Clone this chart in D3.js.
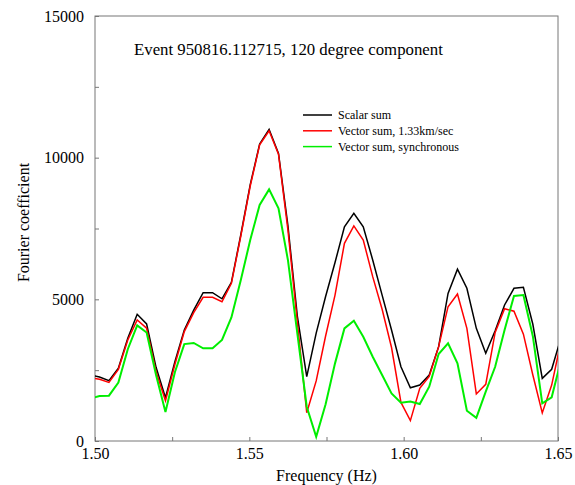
<!DOCTYPE html>
<html>
<head>
<meta charset="utf-8">
<script src="https://cdn.jsdelivr.net/npm/d3@7"></script>
<style>
  body { margin: 0; background: #fff; }
  svg text { font-family: "Liberation Serif", "Times New Roman", Times, "DejaVu Serif", serif; fill: #000; }
</style>
</head>
<body>
<script>
//Fourier coefficients vs frequency, three stacking methods

//Frequency grid (Hz)
var freq = [1.49841, 1.50146, 1.50452, 1.50757, 1.51062, 1.51367, 1.51672, 1.51978,
            1.52283, 1.52588, 1.52893, 1.53198, 1.53503, 1.53809, 1.54114, 1.54419,
            1.54724, 1.55029, 1.55334, 1.55640, 1.55945, 1.56250, 1.56555, 1.56860,
            1.57166, 1.57471, 1.57776, 1.58081, 1.58386, 1.58691, 1.58997, 1.59302,
            1.59607, 1.59912, 1.60217, 1.60522, 1.60828, 1.61133, 1.61438, 1.61743,
            1.62048, 1.62354, 1.62659, 1.62964, 1.63269, 1.63574, 1.63879, 1.64185,
            1.64490, 1.64795, 1.65100];

var scalarSum = [2330, 2260, 2130, 2565, 3625, 4470, 4130, 2600, 1530, 2800,
                 3920, 4620, 5235, 5235, 5020, 5600, 7280, 9050, 10480, 11000,
                 10150, 7600, 4410, 2270, 3810, 5100, 6300, 7560, 8035, 7560,
                 6390, 5150, 3920, 2620, 1880, 1975, 2330, 3330, 5210, 6065,
                 5390, 3975, 3095, 3890, 4800, 5390, 5425, 4120, 2210, 2530, 3655];

var vectorSum = [2240, 2180, 2070, 2530, 3565, 4270, 3980, 2450, 1420, 2700,
                 3860, 4530, 5070, 5070, 4915, 5565, 7235, 9000, 10450, 10950,
                 10120, 7450, 4200, 1000, 2120, 3705, 5150, 6975, 7590, 7095,
                 5800, 4650, 3300, 1360, 720, 1860, 2280, 3330, 4740, 5190,
                 3975, 1660, 2000, 3830, 4670, 4580, 3770, 2330, 990, 1975, 3530];

var syncSum = [1500, 1590, 1600, 2060, 3240, 4080, 3830, 2330, 1020, 2430,
               3420, 3460, 3270, 3270, 3565, 4360, 5680, 7095, 8330, 8880,
               8210, 6390, 3800, 1210, 150, 1300, 2740, 3975, 4245, 3680,
               2975, 2330, 1680, 1350, 1390, 1305, 1915, 3070, 3450, 2740,
               1070, 820, 1740, 2620, 3920, 5120, 5150, 3700, 1330, 1540, 2860];

var seriesNames = ["Scalar sum", "Vector sum, 1.33km/sec", "Vector sum, synchronous"];
var seriesColors = ["#000000", "#ff0000", "#00ee00"];

var xTickValues = [1.50, 1.525, 1.55, 1.575, 1.60, 1.625, 1.65];
var yTickValues = [0, 2500, 5000, 7500, 10000, 12500, 15000];

var svgwidth = 575;
var svgheight = 485;

var margin = { top: 16, right: 17, bottom: 44, left: 95 };

var width = svgwidth - margin.left - margin.right;
var height = svgheight - margin.top - margin.bottom;

var svg = d3.select("body")
            .append("svg")
            .attr("width", svgwidth)
            .attr("height", svgheight);

var chartGroup = svg.append("g")
                .attr("transform", `translate(${margin.left}, ${margin.top})`);

var xScale = d3.scaleLinear().domain([1.50, 1.65]).range([0, width]);
var yScale = d3.scaleLinear().domain([0, 15000]).range([height, 0]);

//clip lines to the frame
chartGroup.append("clipPath")
    .attr("id", "plotclip")
    .append("rect")
    .attr("width", width)
    .attr("height", height);

//axes with inward ticks
var bottomAxis = d3.axisBottom(xScale)
    .tickValues(xTickValues)
    .tickSizeInner(-4)
    .tickSizeOuter(0)
    .tickPadding(7)
    .tickFormat(d => (Math.round(d * 1000) % 50 === 0) ? d3.format(".2f")(d) : "");

var leftAxis = d3.axisLeft(yScale)
    .tickValues(yTickValues)
    .tickSizeInner(-4)
    .tickSizeOuter(0)
    .tickPadding(11)
    .tickFormat(d => d % 5000 === 0 ? d : "");

var xg = chartGroup.append("g")
    .attr("transform", `translate(0, ${height})`)
    .call(bottomAxis);

var yg = chartGroup.append("g")
    .call(leftAxis);

[xg, yg].forEach(function(g) {
    g.attr("font-family", null).attr("font-size", null);
    g.select(".domain").remove();
    g.selectAll("line").attr("stroke", "#777");
    g.selectAll("text")
        .style("font-size", "16px")
        .attr("fill", "#000");
});

//frame
chartGroup.append("rect")
    .attr("width", width)
    .attr("height", height)
    .attr("fill", "none")
    .attr("stroke", "#777")
    .attr("stroke-width", 1);

//lines
var allSeries = [scalarSum, vectorSum, syncSum];
var lineWidths = [1.5, 1.5, 2];

var line = d3.line()
    .x((d, i) => xScale(freq[i]))
    .y(d => yScale(d));

allSeries.forEach(function(values, s) {
    chartGroup.append("path")
        .datum(values)
        .attr("clip-path", "url(#plotclip)")
        .attr("fill", "none")
        .attr("stroke", seriesColors[s])
        .attr("stroke-width", lineWidths[s])
        .attr("stroke-linejoin", "miter")
        .attr("d", line);
});

//title
chartGroup.append("text")
    .attr("x", 39)
    .attr("y", 39)
    .style("font-size", "16.8px")
    .text("Event 950816.112715, 120 degree component");

//legend
var legend = chartGroup.append("g")
    .attr("transform", "translate(208, 99)");

seriesNames.forEach(function(name, i) {
    var row = legend.append("g").attr("transform", `translate(0, ${i * 15.8})`);
    row.append("line")
        .attr("x1", 0).attr("x2", 29)
        .attr("stroke", seriesColors[i])
        .attr("stroke-width", 1.5);
    row.append("text")
        .attr("x", 35)
        .attr("dy", "0.35em")
        .style("font-size", "12px")
        .text(name);
});

//axis titles
chartGroup.append("text")
    .attr("transform", `translate(${width / 2}, ${height + 40})`)
    .attr("text-anchor", "middle")
    .style("font-size", "16px")
    .text("Frequency (Hz)");

chartGroup.append("text")
    .attr("transform", `translate(-66, ${height / 2 - 6}) rotate(-90)`)
    .attr("text-anchor", "middle")
    .style("font-size", "16px")
    .text("Fourier coefficient");
</script>
</body>
</html>
